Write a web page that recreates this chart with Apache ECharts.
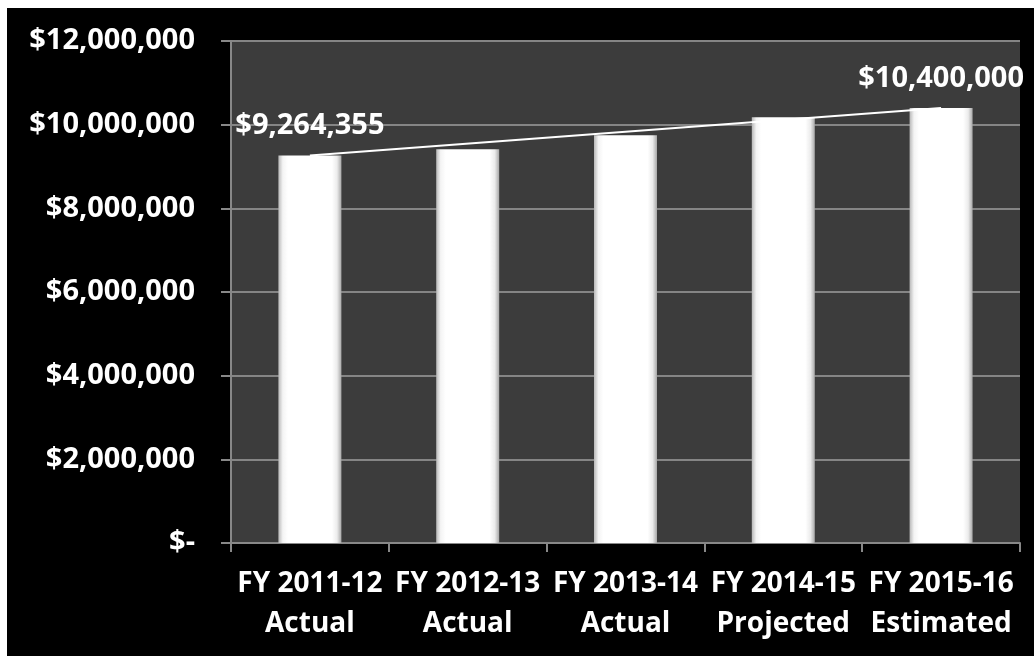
<!DOCTYPE html>
<html>
<head>
<meta charset="utf-8">
<script src="https://cdn.jsdelivr.net/npm/echarts@6/dist/echarts.min.js"></script>
<style>
    html, body { margin: 0; padding: 0; background: #ffffff; }
    #chart { position: absolute; left: 7px; top: 8px; width: 1027px; height: 648px; background: #000000; }
</style>
</head>
<body>
<div id="chart"></div>
<script>
var years = ['FY 2011-12', 'FY 2012-13', 'FY 2013-14', 'FY 2014-15', 'FY 2015-16'];
var kinds = ['Actual', 'Actual', 'Actual', 'Projected', 'Estimated'];
var revenue = [9264355, 9410000, 9750000, 10180000, 10400000];
var labelled = [true, false, false, false, true];

var categories = years.map(function (y, i) { return y + '\n' + kinds[i]; });

function money(v) {
    if (v === 0) return '$-';
    return '$' + String(Math.round(v)).replace(/\B(?=(\d{3})+(?!\d))/g, ',');
}

var font = '"Open Sans", Lato, sans-serif';
var barData = revenue.map(function (v, i) {
    return {
        value: v,
        label: { show: labelled[i] }
    };
});

var myChart = echarts.init(document.getElementById('chart'));
myChart.setOption({
    backgroundColor: '#000000',
    animation: false,
    grid: {
        left: 224,
        top: 33,
        right: 14,
        bottom: 113,
        show: true,
        backgroundColor: '#3c3c3c',
        borderWidth: 0
    },
    xAxis: {
        type: 'category',
        data: categories,
        axisLine: { lineStyle: { color: '#888888', width: 2 } },
        axisTick: { show: true, length: 9, lineStyle: { color: '#888888', width: 2 } },
        axisLabel: {
            color: '#ffffff',
            fontFamily: font,
            fontWeight: 'bold',
            fontSize: 28,
            lineHeight: 40,
            margin: 21,
            interval: 0
        }
    },
    yAxis: {
        type: 'value',
        min: 0,
        max: 12000000,
        interval: 2000000,
        axisLine: { show: true, lineStyle: { color: '#888888', width: 2 } },
        axisTick: { show: true, length: 10, lineStyle: { color: '#888888', width: 2 } },
        splitLine: { lineStyle: { color: '#858585', width: 2 } },
        axisLabel: {
            color: '#ffffff',
            fontFamily: font,
            fontWeight: 'bold',
            fontSize: 29,
            margin: 36,
            formatter: money
        }
    },
    series: [{
        type: 'bar',
        data: barData,
        barWidth: 63,
        itemStyle: {
            color: new echarts.graphic.LinearGradient(0, 0, 1, 0, [
                { offset: 0, color: '#b8b8b8' },
                { offset: 0.07, color: '#f4f4f4' },
                { offset: 0.15, color: '#ffffff' },
                { offset: 0.85, color: '#ffffff' },
                { offset: 0.93, color: '#ececec' },
                { offset: 1, color: '#a8a8a8' }
            ])
        },
        label: {
            position: 'top',
            distance: 15,
            color: '#ffffff',
            fontFamily: font,
            fontWeight: 'bold',
            fontSize: 29,
            formatter: function (p) { return money(p.value); }
        },
        markLine: {
            silent: true,
            symbol: 'none',
            label: { show: false },
            lineStyle: { color: '#ffffff', width: 2, type: 'solid' },
            data: [[
                { coord: [0, revenue[0]] },
                { coord: [4, revenue[4]] }
            ]]
        }
    }]
});
</script>
</body>
</html>
